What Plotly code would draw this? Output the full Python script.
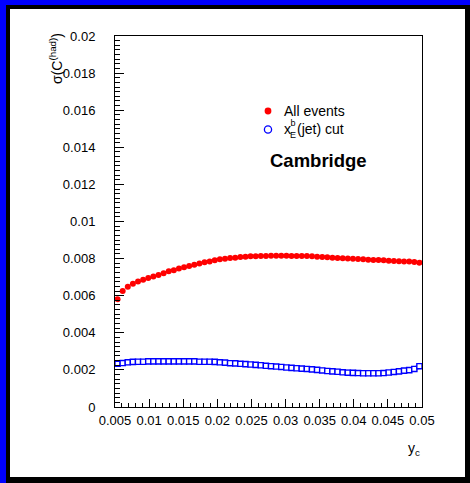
import plotly.graph_objects as go

# ---- data ----
n_bins = 60
yc = [round(0.005375 + 0.00075 * i, 6) for i in range(n_bins)]

sigma_all = [0.00581, 0.00625, 0.00648, 0.00664, 0.00677, 0.00686, 0.00695, 0.00704, 0.00712, 0.00721,
             0.00732, 0.00737, 0.00746, 0.00753, 0.00760, 0.00767, 0.00773, 0.00780, 0.00785, 0.00791,
             0.00796, 0.00799, 0.00803, 0.00805, 0.00809, 0.00810, 0.00812, 0.00812, 0.00814, 0.00814,
             0.00816, 0.00816, 0.00816, 0.00816, 0.00814, 0.00814, 0.00814, 0.00814, 0.00812, 0.00810,
             0.00808, 0.00807, 0.00805, 0.00803, 0.00802, 0.00801, 0.00799, 0.00798, 0.00796, 0.00794,
             0.00792, 0.00792, 0.00791, 0.00789, 0.00787, 0.00786, 0.00785, 0.00784, 0.00782, 0.00778]

sigma_cut = [0.00233, 0.00237, 0.00241, 0.00243, 0.00244, 0.00244, 0.00246, 0.00246, 0.00246, 0.00246,
             0.00246, 0.00246, 0.00246, 0.00246, 0.00246, 0.00246, 0.00244, 0.00244, 0.00244, 0.00243,
             0.00241, 0.00239, 0.00236, 0.00235, 0.00233, 0.00231, 0.00229, 0.00227, 0.00225, 0.00222,
             0.00220, 0.00218, 0.00216, 0.00213, 0.00211, 0.00209, 0.00207, 0.00205, 0.00203, 0.00200,
             0.00197, 0.00194, 0.00192, 0.00190, 0.00187, 0.00185, 0.00184, 0.00183, 0.00182, 0.00182,
             0.00182, 0.00182, 0.00183, 0.00186, 0.00189, 0.00192, 0.00196, 0.00199, 0.00205, 0.00220]

x_ticks = [0.005, 0.01, 0.015, 0.02, 0.025, 0.03, 0.035, 0.04, 0.045, 0.05]
x_tick_labels = ["0.005", "0.01", "0.015", "0.02", "0.025", "0.03", "0.035", "0.04", "0.045", "0.05"]
y_ticks = [0, 0.002, 0.004, 0.006, 0.008, 0.01, 0.012, 0.014, 0.016, 0.018, 0.02]
y_tick_labels = ["0", "0.002", "0.004", "0.006", "0.008", "0.01", "0.012", "0.014", "0.016", "0.018", "0.02"]
x_minor = [round(0.005 + 0.001 * i, 4) for i in range(46)]
y_minor = [round(0.00025 * i, 5) for i in range(81)]

legend_all = "All events"
legend_cut_parts = ["x", "b<br>E", "(jet) cut"]

# ---- layout geometry (pixels) ----
W, H = 470, 483
L, R, T, B = 115, 422, 36, 407
PW, PH = R - L, B - T


def px(x):
    return (x - L) / PW


def py(y):
    return (B - y) / PH


FONT = "Liberation Sans, Arial, Helvetica, sans-serif"

fig = go.Figure()

fig.add_trace(go.Scatter(
    x=yc, y=sigma_cut, mode="lines", line=dict(color="rgba(110,110,255,0.5)", width=5),
    hoverinfo="skip", showlegend=False))
fig.add_trace(go.Scatter(
    x=yc, y=sigma_cut, mode="markers", name="xE(jet) cut",
    marker=dict(symbol="square", size=5.2, color="white", line=dict(color="#0000ff", width=1.4)),
    showlegend=False))
fig.add_trace(go.Scatter(
    x=yc, y=sigma_all, mode="markers", name="All events",
    marker=dict(symbol="circle", size=6, color="#ff0000", line=dict(width=0)),
    showlegend=False))

shapes = [
    dict(type="rect", xref="paper", yref="paper", layer="below",
         x0=px(6), x1=px(471), y0=py(5), y1=py(483), fillcolor="black", line=dict(width=0)),
    dict(type="rect", xref="paper", yref="paper", layer="below",
         x0=px(10), x1=px(465), y0=py(9), y1=py(477), fillcolor="white", line=dict(width=0)),
    dict(type="circle", xref="paper", yref="paper", xsizemode="pixel", ysizemode="pixel",
         xanchor=px(268), yanchor=py(111), x0=-3.4, x1=3.4, y0=-3.4, y1=3.4,
         fillcolor="#ff0000", line=dict(width=0)),
    dict(type="circle", xref="paper", yref="paper", xsizemode="pixel", ysizemode="pixel",
         xanchor=px(268), yanchor=py(129.5), x0=-3.6, x1=3.6, y0=-3.6, y1=3.6,
         fillcolor="white", line=dict(color="#0000ff", width=1.3)),
]


def ann(text, x, y, size, xanchor="left", yanchor="middle", **kw):
    return dict(text=text, x=px(x), y=py(y), xref="paper", yref="paper", xanchor=xanchor,
                yanchor=yanchor, showarrow=False, borderpad=0,
                font=dict(family=FONT, size=size, color="black"), **kw)


annotations = [
    ann(legend_all, 283, 111, 14),
    ann(legend_cut_parts[0], 283, 129, 14),
    ann(legend_cut_parts[1], 292.5, 129, 9, xanchor="center"),
    ann(legend_cut_parts[2], 295.5, 129, 14),
    ann("<b>Cambridge</b>", 318, 160, 18.5, xanchor="center"),
    ann("σ(C<sup>(had)</sup>)", 56, 59, 14, xanchor="center", textangle=-90),
    ann("y<sub>c</sub>", 421, 449, 14, xanchor="right"),
]

fig.update_layout(
    width=W, height=H,
    margin=dict(l=L, r=W - R, t=T, b=H - B, pad=0),
    paper_bgcolor="#0000ff", plot_bgcolor="white",
    shapes=shapes, annotations=annotations, showlegend=False,
    font=dict(family=FONT, size=13, color="black"),
    xaxis=dict(range=[0.005, 0.05], showgrid=False, zeroline=False, showline=True, linecolor="black",
               linewidth=1, mirror=True, ticks="inside", ticklen=8, tickwidth=1, tickcolor="black",
               tickvals=x_ticks, ticktext=x_tick_labels, ticklabelstandoff=1,
               tickfont=dict(family=FONT, size=13, color="black"),
               minor=dict(tickvals=x_minor, ticks="inside", ticklen=4, tickcolor="black", tickwidth=1,
                          showgrid=False)),
    yaxis=dict(range=[0, 0.02], showgrid=False, zeroline=False, showline=True, linecolor="black",
               linewidth=1, mirror=True, ticks="inside", ticklen=9, tickwidth=1, tickcolor="black",
               tickvals=y_ticks, ticktext=y_tick_labels, ticklabelstandoff=16,
               tickfont=dict(family=FONT, size=13, color="black"),
               minor=dict(tickvals=y_minor, ticks="inside", ticklen=5, tickcolor="black", tickwidth=1,
                          showgrid=False)),
)

fig.write_html("out.html", config={"displayModeBar": False},
               post_script="document.body.style.margin='0';document.body.style.overflow='hidden';")
